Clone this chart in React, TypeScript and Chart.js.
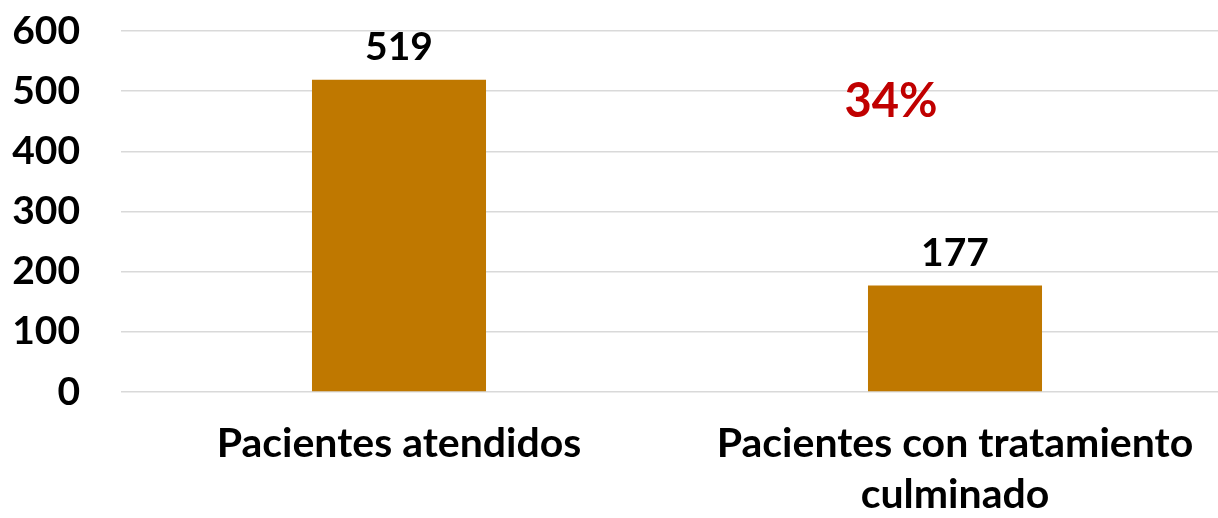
import React, { useEffect, useRef } from "react";
import { Chart, registerables } from "chart.js";

Chart.register(...registerables);

const categories: (string | string[])[] = [
  "Pacientes atendidos",
  ["Pacientes con tratamiento", "culminado"],
];
const patientValues = [519, 177];
const yTicks = [0, 100, 200, 300, 400, 500, 600];
const noteText = "34%";
const notePosition = { x: 0.885, y: 482 };

const barColor = "#BF7800";
const fontFamily = "Lato, 'Open Sans', sans-serif";

const labelsPlugin = {
  id: "valueLabels",
  afterDatasetsDraw(chart: any) {
    const { ctx, scales } = chart;
    ctx.save();
    ctx.font = `bold 39px ${fontFamily}`;
    ctx.fillStyle = "#000000";
    ctx.textAlign = "center";
    ctx.textBaseline = "bottom";
    const meta = chart.getDatasetMeta(0);
    meta.data.forEach((bar: any, i: number) => {
      ctx.fillText(String(patientValues[i]), bar.x, bar.y - 13);
    });
    ctx.font = `bold 47px ${fontFamily}`;
    ctx.fillStyle = "#C00000";
    ctx.textBaseline = "middle";
    ctx.fillText(
      noteText,
      scales.x.getPixelForValue(notePosition.x),
      scales.y.getPixelForValue(notePosition.y)
    );
    ctx.restore();
  },
};

export default function App() {
  const canvasRef = useRef<HTMLCanvasElement | null>(null);

  useEffect(() => {
    if (!canvasRef.current) return;
    const chart = new Chart(canvasRef.current, {
      type: "bar",
      data: {
        labels: categories as any,
        datasets: [
          {
            data: patientValues,
            backgroundColor: barColor,
            borderWidth: 0,
            categoryPercentage: 1,
            barPercentage: 0.313,
          },
        ],
      },
      options: {
        animation: false,
        responsive: true,
        maintainAspectRatio: false,
        layout: { padding: { top: 31, right: 0, bottom: 0, left: 0 } },
        plugins: {
          legend: { display: false },
          tooltip: { enabled: false },
        },
        scales: {
          x: {
            afterFit: (scale: any) => {
              scale.height = 126;
              scale.paddingLeft = 0;
              scale.paddingRight = 0;
              scale.paddingTop = 0;
              scale.paddingBottom = 0;
            },
            grid: { display: false, drawTicks: false },
            border: { display: false },
            ticks: {
              color: "#000000",
              font: { family: fontFamily, size: 41, weight: "bold", lineHeight: 1.25 },
              maxRotation: 0,
              minRotation: 0,
              autoSkip: false,
              padding: 26,
            },
          },
          y: {
            min: 0,
            max: 600,
            afterFit: (scale: any) => {
              scale.width = 121;
              scale.paddingTop = 0;
              scale.paddingBottom = 0;
            },
            afterBuildTicks: (scale: any) => {
              scale.ticks = yTicks.map((v) => ({ value: v }));
            },
            grid: { color: "#D9D9D9", lineWidth: 1.5, drawTicks: false },
            border: { display: false },
            ticks: {
              color: "#000000",
              font: { family: fontFamily, size: 39, weight: "bold" },
              padding: 41,
            },
          },
        },
      },
      plugins: [labelsPlugin],
    });
    return () => chart.destroy();
  }, []);

  return (
    <div
      style={{
        position: "fixed",
        left: 0,
        top: 0,
        width: 1218,
        height: 518,
        overflow: "hidden",
        background: "#ffffff",
      }}
    >
      <div style={{ position: "relative", width: 1233, height: 518 }}>
        <canvas ref={canvasRef} />
      </div>
    </div>
  );
}
